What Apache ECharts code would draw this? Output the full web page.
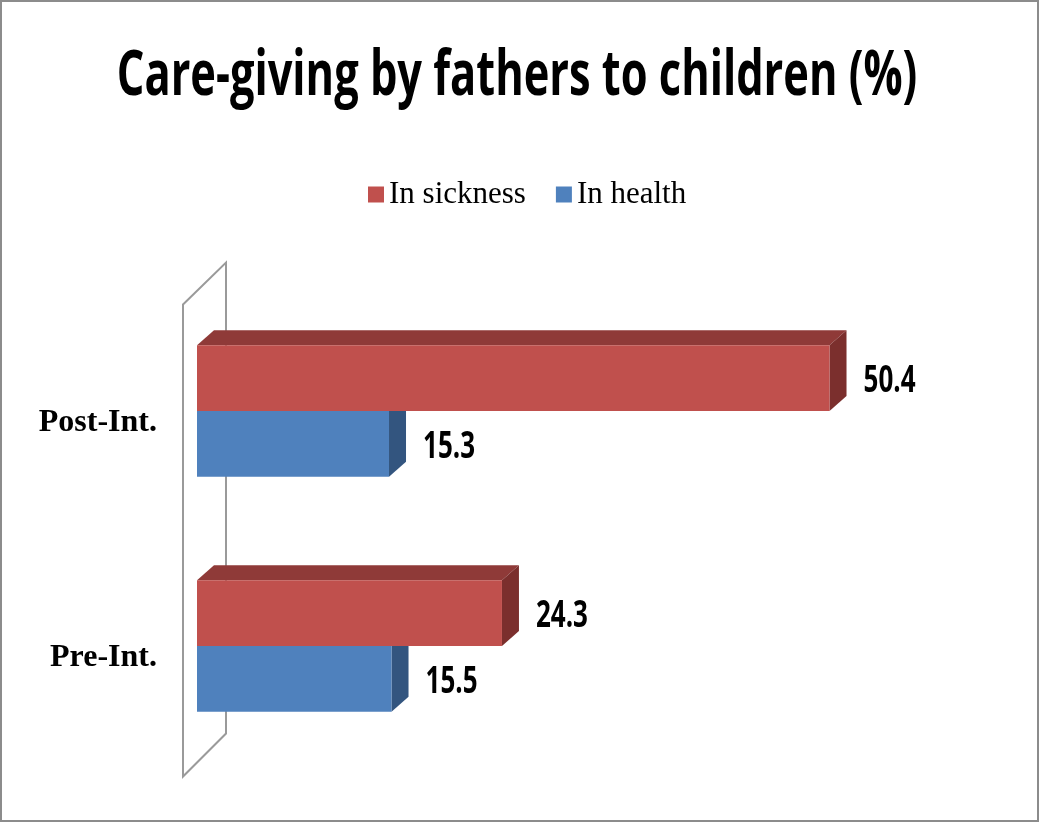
<!DOCTYPE html>
<html>
<head>
<meta charset="utf-8">
<title>Care-giving by fathers to children (%)</title>
<script src="https://cdn.jsdelivr.net/npm/echarts@6/dist/echarts.min.js"></script>
<style>
  html, body { margin: 0; padding: 0; background: #fff; }
  #chart { width: 1040px; height: 824px; }
</style>
</head>
<body>
<div id="chart"></div>
<script>
// Categories run bottom-to-top on the category axis
const categories = ['Pre-Int.', 'Post-Int.'];
const seriesNames = ['In sickness', 'In health'];
const inSickness = [24.3, 50.4];
const inHealth = [15.5, 15.3];
const titleText = 'Care-giving by fathers to children (%)';

// Layout of the plotting area
const GRID_LEFT = 197;
const GRID_TOP = 293.5;
const GRID_HEIGHT = 470;
const X_MAX = 60;
const PX_PER_UNIT = 12.55;
const GRID_WIDTH = X_MAX * PX_PER_UNIT;

// Extruded-bar look
const BAR_RATIO = 0.28;   // bar thickness as share of a category band
const DX = 17;            // depth offset to the right
const DY = 15;            // depth offset upward

const palette = {
  sickness: { front: '#C0504D', top: '#8F3A38', side: '#7B2F2D' },
  health:   { front: '#4F81BD', top: '#3C6496', side: '#33557F' }
};

function barRenderer(colors, upper) {
  return function (params, api) {
    const val = api.value(0);
    const cat = api.value(1);
    const base = api.coord([0, cat]);
    const end = api.coord([val, cat]);
    const band = api.size([0, 1])[1];
    const h = band * BAR_RATIO;
    const x0 = base[0];
    const x1 = end[0];
    const y0 = upper ? base[1] - h : base[1];
    return {
      type: 'group',
      children: [
        {
          type: 'polygon',
          shape: { points: [[x0, y0], [x0 + DX, y0 - DY], [x1 + DX, y0 - DY], [x1, y0]] },
          style: { fill: colors.top }
        },
        {
          type: 'polygon',
          shape: { points: [[x1, y0], [x1 + DX, y0 - DY], [x1 + DX, y0 - DY + h], [x1, y0 + h]] },
          style: { fill: colors.side }
        },
        {
          type: 'rect',
          shape: { x: x0, y: y0, width: x1 - x0, height: h },
          style: { fill: colors.front }
        },
        {
          type: 'text',
          x: x1 + DX + 17,
          y: y0 + h / 2 + 3,
          scaleY: 1.45,
          style: {
            text: val.toFixed(1),
            fontFamily: 'Open Sans',
            fontWeight: 'bold',
            fontSize: 26,
            fill: '#000',
            align: 'left',
            verticalAlign: 'middle'
          }
        }
      ]
    };
  };
}

// Back wall of the 3D plot, drawn as an outlined slanted plane
const wallFrontX = GRID_LEFT - 14;
const wallBackX = GRID_LEFT + 29;
const wallPoints = [
  [wallFrontX, GRID_TOP + 11],
  [wallBackX, GRID_TOP - 31],
  [wallBackX, GRID_TOP + GRID_HEIGHT - 30],
  [wallFrontX, GRID_TOP + GRID_HEIGHT + 13]
];

const chart = echarts.init(document.getElementById('chart'), null, { renderer: 'canvas' });

chart.setOption({
  backgroundColor: '#fff',
  animation: false,
  graphic: [
    {
      type: 'rect',
      z: 0,
      shape: { x: 1, y: 1, width: 1037, height: 820 },
      style: { fill: 'none', stroke: '#8C8C8C', lineWidth: 2 }
    },
    {
      type: 'polygon',
      z: 1,
      shape: { points: wallPoints },
      style: { fill: '#fff', stroke: '#9A9A9A', lineWidth: 2 }
    },
    {
      type: 'text',
      x: 517,
      y: 77,
      scaleY: 1.45,
      style: {
        text: titleText,
        fontFamily: 'Open Sans',
        fontWeight: 'bold',
        fontSize: 43.4,
        fill: '#000',
        align: 'center',
        verticalAlign: 'middle',
        textAlign: 'center',
        textVerticalAlign: 'middle'
      }
    }
  ],
  legend: {
    data: seriesNames,
    left: 363,
    top: 174,
    icon: 'rect',
    itemWidth: 16,
    itemHeight: 16,
    itemGap: 30,
    textStyle: {
      fontFamily: 'Liberation Serif',
      fontSize: 31,
      color: '#000'
    }
  },
  grid: {
    left: GRID_LEFT,
    top: GRID_TOP,
    width: GRID_WIDTH,
    height: GRID_HEIGHT,
    containLabel: false
  },
  xAxis: {
    type: 'value',
    min: 0,
    max: X_MAX,
    show: false
  },
  yAxis: {
    type: 'category',
    data: categories,
    axisLine: { show: false },
    axisTick: { show: false },
    splitLine: { show: false },
    axisLabel: {
      margin: 40,
      fontFamily: 'Liberation Serif',
      fontWeight: 'bold',
      fontSize: 32,
      color: '#000',
      verticalAlign: 'top',
      lineHeight: 24
    }
  },
  series: [
    {
      name: seriesNames[0],
      type: 'custom',
      z: 4,
      itemStyle: { color: palette.sickness.front },
      encode: { x: 0, y: 1 },
      renderItem: barRenderer(palette.sickness, true),
      data: inSickness.map((v, i) => [v, i])
    },
    {
      name: seriesNames[1],
      type: 'custom',
      z: 3,
      itemStyle: { color: palette.health.front },
      encode: { x: 0, y: 1 },
      renderItem: barRenderer(palette.health, false),
      data: inHealth.map((v, i) => [v, i])
    }
  ]
});
</script>
</body>
</html>
